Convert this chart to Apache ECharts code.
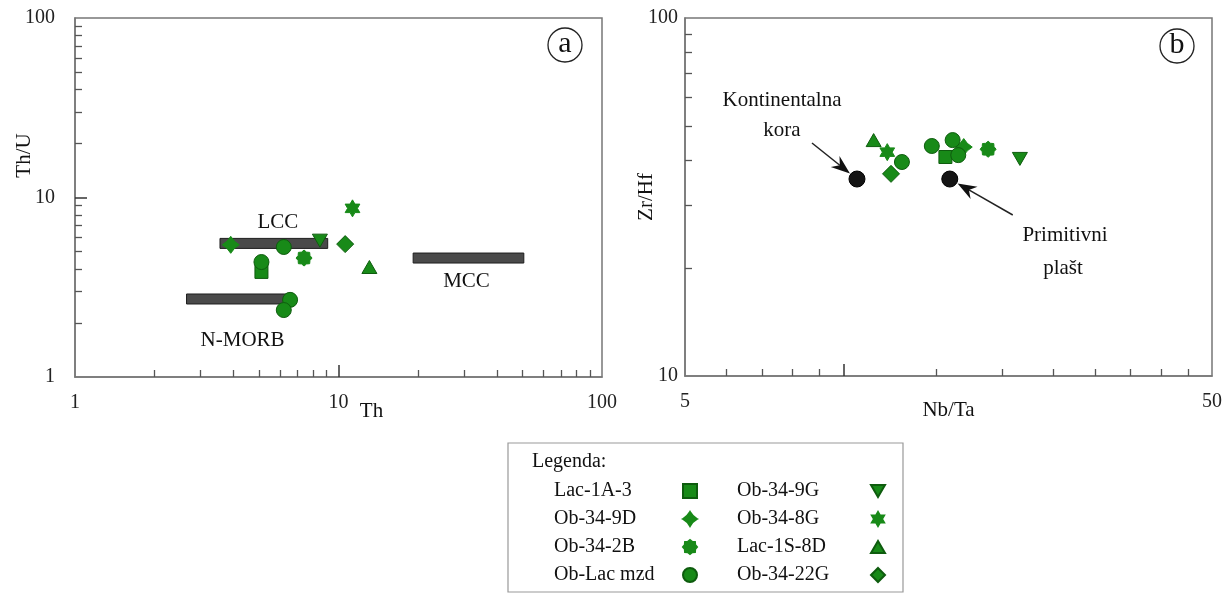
<!DOCTYPE html>
<html><head><meta charset="utf-8">
<script src="https://cdn.jsdelivr.net/npm/echarts@6/dist/echarts.min.js"></script>
<style>html,body{margin:0;padding:0;background:#fff}#c{width:1227px;height:593px}</style>
</head><body><div id="c"></div>
<script>
// ---------- DATA ----------
const sampleNames = ['Lac-1A-3','Ob-34-9D','Ob-34-2B','Ob-Lac mzd','Ob-34-9G','Ob-34-8G','Lac-1S-8D','Ob-34-22G'];

// Panel a: [Th, Th/U]
const thU_Lac1A3   = [[5.1, 3.85]];
const thU_Ob349D   = [[3.9, 5.45]];
const thU_Ob342B   = [[7.4, 4.6]];
const thU_ObLacMzd = [[6.2, 5.3], [5.1, 4.37], [6.55, 2.69], [6.2, 2.36]];
const thU_Ob349G   = [[8.5, 5.75]];
const thU_Ob348G   = [[11.3, 8.7]];
const thU_Lac1S8D  = [[13.1, 4.1]];
const thU_Ob3422G  = [[10.6, 5.5]];

// Panel a reference ranges
const rangeNames = ['LCC', 'MCC', 'N-MORB'];
const rangeTh    = [[3.55, 9.1], [19.2, 50.5], [2.65, 6.7]];
const rangeThU   = [5.55, 4.6, 2.72];

// Panel b: [Nb/Ta, Zr/Hf]
const nbZr_Lac1A3   = [[15.6, 40.9]];
const nbZr_Ob349D   = [[16.9, 43.6]];
const nbZr_Ob342B   = [[18.8, 43.0]];
const nbZr_ObLacMzd = [[12.9, 39.6], [14.7, 43.9], [16.1, 45.6], [16.5, 41.4]];
const nbZr_Ob349G   = [[21.6, 40.4]];
const nbZr_Ob348G   = [[12.1, 42.2]];
const nbZr_Lac1S8D  = [[11.4, 45.6]];
const nbZr_Ob3422G  = [[12.3, 36.7]];
const refNames = ['Kontinentalna kora', 'Primitivni plašt'];
const nbZr_reference = [[10.6, 35.5], [15.9, 35.5]];

// Tick values
const thTicksMinor   = [2,3,4,5,6,7,8,9,20,30,40,50,60,70,80,90];
const thUTicksMinor  = [2,3,4,5,6,7,8,9,20,30,40,50,60,70,80,90];
const decadeLabelsA  = [1, 10, 100];
const nbTaTicksMinor = [6,7,8,9,15,20,25,30,35,40,45];
const nbTaLabels     = [5, 50];
const zrHfTicksMinor = [20,30,40,50,60,70,80,90];
const zrHfLabels     = [10, 100];

// ---------- STYLE ----------
const FONT = '"Liberation Serif", "Times New Roman", serif';
const GREEN = '#188a18';
const GREEN_DARK = '#0e5c0e';
function starPath(n, rO, rI) {
  const pts = [];
  for (let i = 0; i < 2 * n; i++) {
    const a = -Math.PI / 2 + i * Math.PI / n;
    const r = i % 2 ? rI : rO;
    pts.push((r * Math.cos(a)).toFixed(3) + ',' + (r * Math.sin(a)).toFixed(3));
  }
  return 'path://M' + pts.join('L') + 'Z';
}
const symbolStyle = {
  'Lac-1A-3':   {symbol: 'rect', size: 13, border: GREEN_DARK},
  'Ob-34-9D':   {symbol: 'path://M0,-10Q3.6,-3.6 10,0Q3.6,3.6 0,10Q-3.6,3.6 -10,0Q-3.6,-3.6 0,-10Z', size: 17, border: GREEN},
  'Ob-34-2B':   {symbol: starPath(8, 10, 8), size: 16, border: GREEN},
  'Ob-Lac mzd': {symbol: 'circle', size: 15, border: GREEN_DARK},
  'Ob-34-9G':   {symbol: 'path://M-10,-8.66L10,-8.66L0,8.66Z', size: 15, border: GREEN_DARK},
  'Ob-34-8G':   {symbol: starPath(6, 10, 5.77), size: 17, border: GREEN},
  'Lac-1S-8D':  {symbol: 'path://M0,-8.66L10,8.66L-10,8.66Z', size: 15, border: GREEN_DARK},
  'Ob-34-22G':  {symbol: 'diamond', size: 17, border: GREEN_DARK}
};
const rangeLabelOffset = {'LCC': [4, -21], 'MCC': [-2, 23], 'N-MORB': [3, 41]};

const dataA = {
  'Lac-1A-3': thU_Lac1A3, 'Ob-34-9D': thU_Ob349D, 'Ob-34-2B': thU_Ob342B, 'Ob-Lac mzd': thU_ObLacMzd,
  'Ob-34-9G': thU_Ob349G, 'Ob-34-8G': thU_Ob348G, 'Lac-1S-8D': thU_Lac1S8D, 'Ob-34-22G': thU_Ob3422G
};
const dataB = {
  'Lac-1A-3': nbZr_Lac1A3, 'Ob-34-9D': nbZr_Ob349D, 'Ob-34-2B': nbZr_Ob342B, 'Ob-Lac mzd': nbZr_ObLacMzd,
  'Ob-34-9G': nbZr_Ob349G, 'Ob-34-8G': nbZr_Ob348G, 'Lac-1S-8D': nbZr_Lac1S8D, 'Ob-34-22G': nbZr_Ob3422G
};

const chart = echarts.init(document.getElementById('c'), null, {renderer: 'canvas'});

const lineStyle = {color: '#777', width: 1.5};
const tickStyle = {color: '#555', width: 1.3};
const labelStyle = {fontFamily: FONT, fontSize: 20, color: '#222'};
const nameStyle = {fontFamily: FONT, fontSize: 21, color: '#111'};

function mainAxis(grid, min, max, minorTicks, labels, pos, margin, extra) {
  return Object.assign({
    type: 'log', logBase: 10, gridIndex: grid, min: min, max: max, position: pos,
    nameMoveOverlap: false,
    axisLine: {show: true, lineStyle: lineStyle},
    axisTick: {show: true, inside: true, length: 7, lineStyle: tickStyle, customValues: minorTicks},
    axisLabel: Object.assign({customValues: labels, margin: margin, formatter: v => String(v)}, labelStyle),
    splitLine: {show: false}, minorTick: {show: false}
  }, extra || {});
}
function longTickAxis(grid, min, max, vals, pos) {
  return {
    type: 'log', logBase: 10, gridIndex: grid, min: min, max: max, position: pos,
    axisLine: {show: false},
    axisTick: {show: true, inside: true, length: 12, lineStyle: {color: '#333', width: 1.5}, customValues: vals},
    axisLabel: {show: false}, splitLine: {show: false}
  };
}

const series = [];
// panel a ranges
series.push({
  type: 'custom', name: 'ranges', xAxisIndex: 0, yAxisIndex: 0, z: 1,
  data: rangeTh.map((r, i) => [r[0], r[1], rangeThU[i]]),
  encode: {x: [0, 1], y: 2},
  renderItem: function (params, api) {
    const p0 = api.coord([api.value(0), api.value(2)]);
    const p1 = api.coord([api.value(1), api.value(2)]);
    const h = 10;
    const name = rangeNames[params.dataIndex];
    const off = rangeLabelOffset[name];
    return {type: 'group', children: [
      {type: 'rect', shape: {x: p0[0], y: p0[1] - h / 2, width: p1[0] - p0[0], height: h},
       style: {fill: '#4a4a4a', stroke: '#1e1e1e', lineWidth: 1}},
      {type: 'text', style: {text: name, x: (p0[0] + p1[0]) / 2 + off[0], y: p0[1] + off[1],
        font: '21px ' + FONT, fill: '#111', align: 'center', verticalAlign: 'middle'}}
    ]};
  }
});
sampleNames.forEach(n => {
  const s = symbolStyle[n];
  const base = {
    type: 'scatter', name: n, symbol: s.symbol, symbolSize: s.size, symbolKeepAspect: true,
    itemStyle: {color: GREEN, borderColor: s.border, borderWidth: 1, opacity: 1},
    emphasis: {disabled: true}, z: 3
  };
  series.push(Object.assign({}, base, {xAxisIndex: 0, yAxisIndex: 0, data: dataA[n]}));
  series.push(Object.assign({}, base, {xAxisIndex: 2, yAxisIndex: 2, data: dataB[n]}));
});
const refSeriesIndex = series.length;
series.push({
  type: 'scatter', name: 'reference', xAxisIndex: 2, yAxisIndex: 2, symbol: 'circle', symbolSize: 16,
  itemStyle: {color: '#141414', borderColor: '#000', borderWidth: 1, opacity: 1}, data: nbZr_reference, z: 3,
  emphasis: {disabled: true}
});

function legendCfg(names, left, w) {
  return {
    data: names, orient: 'vertical', left: left, top: 476, align: 'right',
    itemWidth: 14, itemHeight: 14, itemGap: 8, selectedMode: false,
    formatter: n => '{n|' + n + '}',
    textStyle: {rich: {n: {width: w, fontSize: 20, fontFamily: FONT, color: '#111', lineHeight: 20, align: 'left'}}}
  };
}

const option = {
  backgroundColor: '#fff',
  animation: false,
  grid: [
    {left: 75, top: 18, width: 527, height: 359, show: true, borderColor: '#777', borderWidth: 1.5, outerBoundsMode: 'none', containLabel: false},
    {left: 685, top: 18, width: 527, height: 358, show: true, borderColor: '#777', borderWidth: 1.5, outerBoundsMode: 'none', containLabel: false}
  ],
  xAxis: [
    mainAxis(0, 1, 100, thTicksMinor, decadeLabelsA, 'bottom', 16,
      {name: 'Th', nameLocation: 'middle', nameGap: 24, nameTextStyle: Object.assign({padding: [0, 0, 0, 66]}, nameStyle)}),
    longTickAxis(0, 1, 100, [10], 'bottom'),
    mainAxis(1, 5, 50, nbTaTicksMinor, nbTaLabels, 'bottom', 16,
      {name: 'Nb/Ta', nameLocation: 'middle', nameGap: 24, nameTextStyle: nameStyle}),
    longTickAxis(1, 5, 50, [10], 'bottom')
  ],
  yAxis: [
    mainAxis(0, 1, 100, thUTicksMinor, decadeLabelsA, 'left', 20,
      {name: 'Th/U', nameLocation: 'middle', nameGap: 40, nameTextStyle: Object.assign({padding: [0, 0, 0, 84]}, nameStyle)}),
    longTickAxis(0, 1, 100, [10], 'left'),
    mainAxis(1, 10, 100, zrHfTicksMinor, zrHfLabels, 'left', 7,
      {name: 'Zr/Hf', nameLocation: 'middle', nameGap: 28, nameTextStyle: nameStyle})
  ],
  legend: [legendCfg(sampleNames.slice(0, 4), 549, 124), legendCfg(sampleNames.slice(4), 732, 129)],
  series: series,
  graphic: [
    {id: 'legBox', type: 'rect', shape: {x: 508, y: 443, width: 395, height: 149}, style: {fill: 'none', stroke: '#999', lineWidth: 1.2}, z: 0},
    {id: 'legTitle', type: 'text', style: {text: 'Legenda:', x: 532, y: 462, font: '20px ' + FONT, fill: '#111', verticalAlign: 'middle'}},
    {id: 'circA', type: 'circle', shape: {cx: 565, cy: 45, r: 17}, style: {fill: 'none', stroke: '#222', lineWidth: 1.3}},
    {id: 'txtA', type: 'text', style: {text: 'a', x: 565, y: 44, font: '30px ' + FONT, fill: '#111', align: 'center', verticalAlign: 'middle'}},
    {id: 'circB', type: 'circle', shape: {cx: 1177, cy: 46, r: 17}, style: {fill: 'none', stroke: '#222', lineWidth: 1.3}},
    {id: 'txtB', type: 'text', style: {text: 'b', x: 1177, y: 45, font: '30px ' + FONT, fill: '#111', align: 'center', verticalAlign: 'middle'}},
    {id: 'k1', type: 'text', style: {text: 'Kontinentalna', x: 782, y: 100, font: '21px ' + FONT, fill: '#111', align: 'center', verticalAlign: 'middle'}},
    {id: 'k2', type: 'text', style: {text: 'kora', x: 782, y: 130, font: '21px ' + FONT, fill: '#111', align: 'center', verticalAlign: 'middle'}},
    {id: 'p1', type: 'text', style: {text: 'Primitivni', x: 1065, y: 235, font: '21px ' + FONT, fill: '#111', align: 'center', verticalAlign: 'middle'}},
    {id: 'p2', type: 'text', style: {text: 'plašt', x: 1063, y: 268, font: '21px ' + FONT, fill: '#111', align: 'center', verticalAlign: 'middle'}}
  ]
};
chart.setOption(option);

// arrows pointing to the reference points
const arrowStartOffsets = [[-45, -36], [63, 36]];
const arrowEls = [];
nbZr_reference.forEach((v, i) => {
  const p = chart.convertToPixel({seriesIndex: refSeriesIndex}, v);
  const off = arrowStartOffsets[i];
  const start = [p[0] + off[0], p[1] + off[1]];
  const len = Math.hypot(off[0], off[1]);
  const ux = off[0] / len, uy = off[1] / len;
  const tip = [p[0] + ux * 9, p[1] + uy * 9];
  const px = -uy, py = ux;
  const L = 19, W = 7, N = 13;
  const back1 = [tip[0] + ux * L + px * W, tip[1] + uy * L + py * W];
  const back2 = [tip[0] + ux * L - px * W, tip[1] + uy * L - py * W];
  const notch = [tip[0] + ux * N, tip[1] + uy * N];
  arrowEls.push({id: 'al' + i, type: 'line', shape: {x1: start[0], y1: start[1], x2: notch[0], y2: notch[1]}, style: {stroke: '#222', lineWidth: 1.5}, z: 10});
  arrowEls.push({id: 'ah' + i, type: 'polygon', shape: {points: [tip, back1, notch, back2]}, style: {fill: '#111'}, z: 10});
});
chart.setOption({graphic: arrowEls});
</script></body></html>
